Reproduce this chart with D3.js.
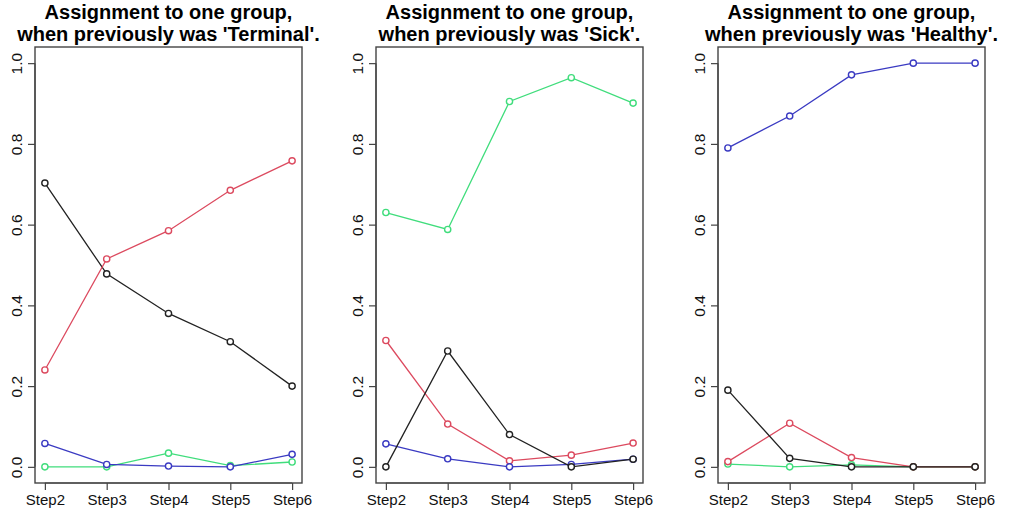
<!DOCTYPE html>
<html>
<head>
<meta charset="utf-8">
<script src="https://cdn.jsdelivr.net/npm/d3@7"></script>
<style>
  html, body { margin: 0; padding: 0; background: #fff; }
  svg text { font-family: "Liberation Sans", Arial, sans-serif; }
</style>
</head>
<body>
<svg id="chart" width="1009" height="516"></svg>
<script>
// Step labels along the x axis
const steps = ["Step2", "Step3", "Step4", "Step5", "Step6"];
const yTicks = [0, 0.2, 0.4, 0.6, 0.8, 1.0];

// Panel titles (previous state)
const previousStates = ["Terminal", "Sick", "Healthy"];

// Assignment proportions, previously 'Terminal'
const terminalBlack = [0.703, 0.478, 0.380, 0.310, 0.200];
const terminalRed   = [0.240, 0.515, 0.585, 0.685, 0.758];
const terminalGreen = [0.000, 0.000, 0.034, 0.003, 0.012];
const terminalBlue  = [0.058, 0.006, 0.002, 0.000, 0.031];

// Assignment proportions, previously 'Sick'
const sickBlack = [0.000, 0.287, 0.080, 0.000, 0.019];
const sickRed   = [0.313, 0.106, 0.015, 0.029, 0.059];
const sickGreen = [0.630, 0.588, 0.905, 0.964, 0.901];
const sickBlue  = [0.057, 0.020, 0.000, 0.006, 0.019];

// Assignment proportions, previously 'Healthy'
const healthyBlack = [0.190, 0.021, 0.000, 0.000, 0.000];
const healthyRed   = [0.013, 0.108, 0.023, 0.000, 0.000];
const healthyGreen = [0.007, 0.000, 0.005, 0.000, 0.000];
const healthyBlue  = [0.790, 0.869, 0.971, 1.000, 1.000];

const colors = { black: "#222222", red: "#dc4a5f", green: "#40dd7c", blue: "#3a3ac2" };

// Series per panel, in drawing order
const panels = [
  { state: previousStates[0], left: 35, series: [
    { c: "black", v: terminalBlack }, { c: "red", v: terminalRed },
    { c: "green", v: terminalGreen }, { c: "blue", v: terminalBlue } ] },
  { state: previousStates[1], left: 376, series: [
    { c: "green", v: sickGreen }, { c: "red", v: sickRed },
    { c: "blue", v: sickBlue }, { c: "black", v: sickBlack } ] },
  { state: previousStates[2], left: 718, series: [
    { c: "blue", v: healthyBlue }, { c: "green", v: healthyGreen },
    { c: "red", v: healthyRed }, { c: "black", v: healthyBlack } ] }
];

const svg = d3.select("#chart");
const boxW = 267, boxTop = 47, boxBottom = 483;

panels.forEach(p => {
  const g = svg.append("g");
  const x0 = p.left, x1 = p.left + boxW;

  // R-style 4% padding on both axes
  const x = d3.scaleLinear().domain([1 - 0.16, 5 + 0.16]).range([x0, x1]);
  const y = d3.scaleLinear().domain([-0.04, 1.04]).range([boxBottom, boxTop]);

  // Lines and open circles
  const line = d3.line().x((d, i) => x(i + 1)).y(d => y(d));
  p.series.forEach(s => {
    g.append("path")
      .attr("d", line(s.v))
      .attr("fill", "none")
      .attr("stroke", colors[s.c])
      .attr("stroke-width", 1.3);
    g.selectAll(null).data(s.v).enter().append("circle")
      .attr("cx", (d, i) => x(i + 1))
      .attr("cy", d => y(d))
      .attr("r", 3.1)
      .attr("fill", "#fff")
      .attr("stroke", colors[s.c])
      .attr("stroke-width", 1.4);
  });

  // Box
  g.append("rect")
    .attr("x", x0).attr("y", boxTop)
    .attr("width", boxW).attr("height", boxBottom - boxTop)
    .attr("fill", "none").attr("stroke", "#444").attr("stroke-width", 1.4);

  // X axis
  const xAxis = d3.axisBottom(x)
    .tickValues([1, 2, 3, 4, 5])
    .tickFormat((d) => steps[d - 1])
    .tickSize(7).tickPadding(4);
  const gx = g.append("g").attr("transform", `translate(0,${boxBottom})`).call(xAxis);
  gx.select(".domain")
    .attr("d", `M${x(1)},0H${x(5)}`)
    .attr("stroke", "#444").attr("stroke-width", 1.2);
  gx.selectAll(".tick line").attr("stroke", "#444").attr("stroke-width", 1.2);
  gx.selectAll(".tick text")
    .attr("font-size", 15).attr("fill", "#111")
    .attr("font-family", "Liberation Sans, Arial, sans-serif");

  // Y axis with rotated labels
  const yAxis = d3.axisLeft(y).tickValues(yTicks).tickFormat(d3.format(".1f"))
    .tickSize(7).tickPadding(3);
  const gy = g.append("g").attr("transform", `translate(${x0},0)`).call(yAxis);
  gy.select(".domain")
    .attr("d", `M0,${y(0)}V${y(1)}`)
    .attr("stroke", "#444").attr("stroke-width", 1.2);
  gy.selectAll(".tick line").attr("stroke", "#444").attr("stroke-width", 1.2);
  gy.selectAll(".tick text")
    .attr("font-size", 15.5).attr("fill", "#111")
    .attr("font-family", "Liberation Sans, Arial, sans-serif")
    .attr("x", null).attr("dy", null)
    .attr("text-anchor", "middle")
    .attr("transform", "translate(-13,0) rotate(-90)")
    .attr("y", 0);

  // Title
  const cx = (x0 + x1) / 2;
  const t = g.append("text")
    .attr("text-anchor", "middle")
    .attr("font-size", 20).attr("font-weight", "bold").attr("fill", "#000");
  t.append("tspan").attr("x", cx).attr("y", 19).text("Assignment to one group,");
  t.append("tspan").attr("x", cx).attr("y", 41).text(`when previously was '${p.state}'.`);
});
</script>
</body>
</html>
